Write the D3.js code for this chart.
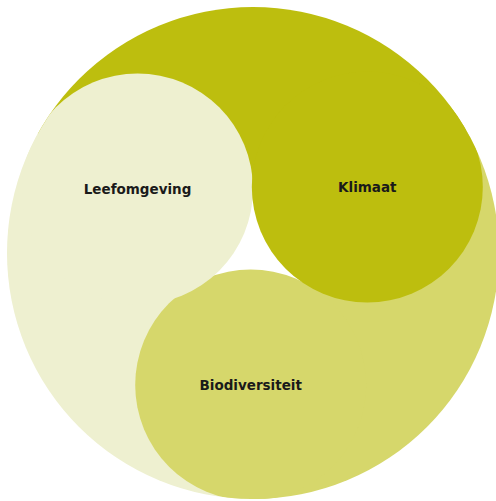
<!DOCTYPE html>
<html>
<head>
<meta charset="utf-8">
<script src="https://cdn.jsdelivr.net/npm/d3@7"></script>
<style>
  body { margin: 0; background: #fff; }
  text { font-family: "DejaVu Sans", sans-serif; font-weight: 700; font-size: 13.5px; fill: #1a1a1a; }
</style>
</head>
<body>
<script>
  // the three parts of the swirl, in clockwise order of their heads
  let labels = ["Klimaat", "Biodiversiteit", "Leefomgeving"];
  let colours = ["#bdbe0e", "#d6d76b", "#eef0d0"];

  let width = 496, height = 501;
  let cx = 253, cy = 253, outerR = 246;
  let headDist = 132, headR = 115.5;

  // where each head sits, in screen degrees (0 = right, clockwise)
  let angle = d3.scaleOrdinal().domain(labels).range([-30, 91, 209]);
  let colour = d3.scaleOrdinal().domain(labels).range(colours);
  let rad = d => d * Math.PI / 180;

  let heads = labels.map((name, i) => ({
    name: name,
    next: labels[(i + 1) % labels.length],
    prev: labels[(i + labels.length - 1) % labels.length],
    x: cx + headDist * Math.cos(rad(angle(name))),
    y: cy + headDist * Math.sin(rad(angle(name)))
  }));

  let svg = d3.select('body').append('svg')
    .attr('width', width)
    .attr('height', height);

  svg.append('clipPath').attr('id', 'disc')
    .append('circle')
    .attr('cx', cx).attr('cy', cy).attr('r', outerR);

  let g = svg.append('g').attr('clip-path', 'url(#disc)');

  // tails: each one runs back (counter-clockwise) from its head to the previous head
  let arc = d3.arc().innerRadius(0).outerRadius(outerR + 2);
  g.selectAll('path.tail')
    .data(heads)
    .join('path')
    .attr('class', 'tail')
    .attr('transform', `translate(${cx},${cy})`)
    .attr('d', d => {
      let start = angle(d.prev);
      let end = angle(d.name);
      if (start > end) end += 360;
      return arc({ startAngle: rad(start + 90), endAngle: rad(end + 90) });
    })
    .attr('fill', d => colour(d.name));

  // white hole in the middle, between the three heads
  let mids = heads.map(h => {
    let o = heads.find(k => k.name === h.next);
    return [(h.x + o.x) / 2, (h.y + o.y) / 2];
  });
  g.append('path')
    .attr('d', d3.line()(mids) + 'Z')
    .attr('fill', '#fff');

  // heads on top, Klimaat drawn last so it sits above Biodiversiteit
  g.selectAll('circle.head')
    .data([heads[1], heads[2], heads[0]])
    .join('circle')
    .attr('class', 'head')
    .attr('cx', d => d.x)
    .attr('cy', d => d.y)
    .attr('r', headR)
    .attr('fill', d => colour(d.name));

  svg.selectAll('text')
    .data(heads)
    .join('text')
    .attr('x', d => d.x)
    .attr('y', d => d.y)
    .attr('dy', '0.35em')
    .attr('text-anchor', 'middle')
    .text(d => d.name);
</script>
</body>
</html>
